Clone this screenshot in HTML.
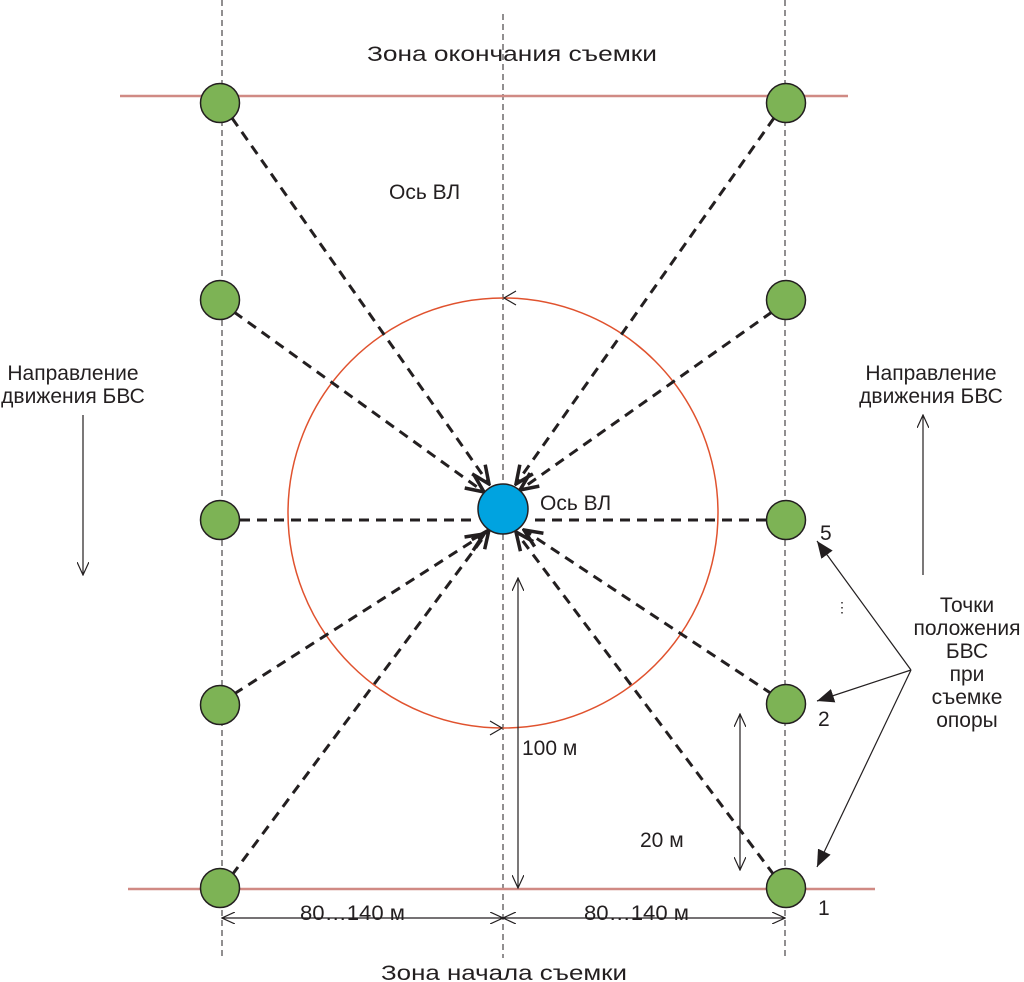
<!DOCTYPE html>
<html><head><meta charset="utf-8"><style>
body{margin:0;background:#fff}
svg{display:block}
text{font-family:"Liberation Sans",sans-serif;font-size:21px;fill:#231f20}
</style></head><body>
<svg width="1024" height="982" viewBox="0 0 1024 982">
<defs>
<marker id="open" markerWidth="14" markerHeight="12" refX="13" refY="6" orient="auto-start-reverse" markerUnits="userSpaceOnUse">
<path d="M0,0 L13,6 L0,12" fill="none" stroke="#231f20" stroke-width="1.2"/></marker>
<marker id="fill" markerWidth="18" markerHeight="14" refX="17" refY="7" orient="auto" markerUnits="userSpaceOnUse">
<path d="M0,0 L17,7 L0,14 z" fill="#231f20"/></marker>
<marker id="thick" markerWidth="22" markerHeight="20" refX="20" refY="10" orient="auto" markerUnits="userSpaceOnUse">
<path d="M2,2 L20,10 L2,18" fill="none" stroke="#231f20" stroke-width="3.5"/></marker>
</defs>
<g stroke="#231f20" stroke-width="1" stroke-dasharray="6 4">
<line x1="222" y1="0" x2="222" y2="958"/>
<line x1="503" y1="14" x2="503" y2="958"/>
<line x1="785" y1="0" x2="785" y2="958"/>
</g>
<line x1="120" y1="96" x2="848" y2="96" stroke="#d08a84" stroke-width="2.5"/>
<line x1="128" y1="889" x2="875" y2="889" stroke="#d08a84" stroke-width="2.5"/>
<circle cx="503" cy="513" r="215" fill="none" stroke="#e0522e" stroke-width="1.5"/>
<path d="M516,291 L504,298 L516,305" fill="none" stroke="#231f20" stroke-width="1.2"/>
<path d="M490,721 L502,728 L490,735" fill="none" stroke="#231f20" stroke-width="1.2"/>
<g stroke="#231f20" stroke-width="3" stroke-dasharray="10 7" fill="none">
<line x1="232" y1="118" x2="489" y2="484" marker-end="url(#thick)"/>
<line x1="234" y1="312" x2="484" y2="492" marker-end="url(#thick)"/>
<line x1="240" y1="520" x2="478" y2="520"/>
<line x1="234" y1="694" x2="484" y2="534" marker-end="url(#thick)"/>
<line x1="232" y1="875" x2="489" y2="530" marker-end="url(#thick)"/>
<line x1="774" y1="118" x2="516" y2="484" marker-end="url(#thick)"/>
<line x1="772" y1="312" x2="520" y2="490" marker-end="url(#thick)"/>
<line x1="766" y1="520" x2="528" y2="520"/>
<line x1="772" y1="694" x2="524" y2="530" marker-end="url(#thick)"/>
<line x1="774" y1="875" x2="516" y2="532" marker-end="url(#thick)"/>
</g>
<g fill="#7db355" stroke="#231f20" stroke-width="1.5">
<circle cx="220" cy="103" r="19.5"/><circle cx="220" cy="300" r="19.5"/><circle cx="220" cy="520" r="19.5"/><circle cx="220" cy="705" r="19.5"/><circle cx="220" cy="888" r="19.5"/>
<circle cx="786" cy="103" r="19.5"/><circle cx="786" cy="300" r="19.5"/><circle cx="786" cy="520" r="19.5"/><circle cx="786" cy="704" r="19.5"/><circle cx="786" cy="888" r="19.5"/>
</g>
<circle cx="503" cy="509" r="25" fill="#00a3e0" stroke="#231f20" stroke-width="1.5"/>
<g stroke="#231f20" stroke-width="1.2" fill="none">
<line x1="518" y1="578" x2="518" y2="888" marker-start="url(#open)" marker-end="url(#open)"/>
<line x1="740" y1="714" x2="740" y2="870" marker-start="url(#open)" marker-end="url(#open)"/>
<line x1="222" y1="918" x2="503" y2="918" marker-start="url(#open)" marker-end="url(#open)"/>
<line x1="503" y1="918" x2="785" y2="918" marker-start="url(#open)" marker-end="url(#open)"/>
<line x1="83" y1="415" x2="83" y2="575" marker-end="url(#open)"/>
<line x1="923" y1="575" x2="923" y2="415" marker-end="url(#open)"/>
<line x1="911" y1="670" x2="817" y2="541" marker-end="url(#fill)"/>
<line x1="911" y1="670" x2="817" y2="701" marker-end="url(#fill)"/>
<line x1="911" y1="670" x2="817" y2="867" marker-end="url(#fill)"/>
</g>
<text x="367" y="61" textLength="290" lengthAdjust="spacingAndGlyphs">Зона окончания съемки</text>
<text x="389" y="199">Ось ВЛ</text>
<text x="540" y="510">Ось ВЛ</text>
<text x="73" y="380" text-anchor="middle">Направление</text>
<text x="73" y="403" text-anchor="middle">движения БВС</text>
<text x="931" y="380" text-anchor="middle">Направление</text>
<text x="931" y="403" text-anchor="middle">движения БВС</text>
<text x="967" y="612" text-anchor="middle">Точки</text>
<text x="967" y="635" text-anchor="middle">положения</text>
<text x="967" y="658" text-anchor="middle">БВС</text>
<text x="967" y="681" text-anchor="middle">при</text>
<text x="967" y="704" text-anchor="middle">съемке</text>
<text x="967" y="727" text-anchor="middle">опоры</text>
<text x="820" y="540">5</text>
<text x="835" y="612" style="font-size:14px">⋮</text>
<text x="818" y="726">2</text>
<text x="818" y="915">1</text>
<text x="522" y="755">100 м</text>
<text x="640" y="847">20 м</text>
<text x="300" y="920" textLength="105" lengthAdjust="spacingAndGlyphs">80…140 м</text>
<text x="584" y="920" textLength="105" lengthAdjust="spacingAndGlyphs">80…140 м</text>
<text x="381" y="980" textLength="246" lengthAdjust="spacingAndGlyphs">Зона начала съемки</text>
</svg>
</body></html>
